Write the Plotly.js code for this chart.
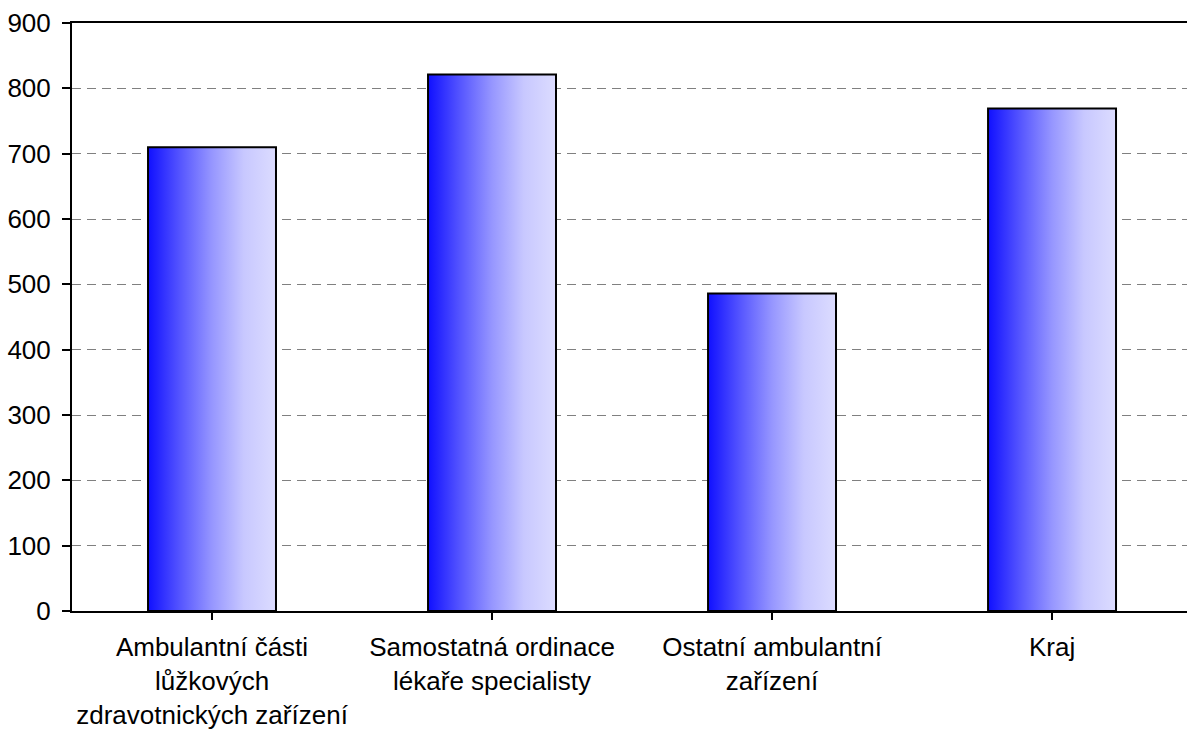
<!DOCTYPE html>
<html>
<head>
<meta charset="utf-8">
<script src="https://cdn.plot.ly/plotly-3.0.1.min.js"></script>
<style>html,body{margin:0;padding:0;background:#fff;}#chart{width:1187px;height:729px;}</style>
</head>
<body>
<div id="chart"></div>
<script>
const categories = [
  "Ambulantní části<br>lůžkových<br>zdravotnických zařízení",
  "Samostatná ordinace<br>lékaře specialisty",
  "Ostatní ambulantní<br>zařízení",
  "Kraj"
];
const values = [710, 821, 486, 769];
const yTickValues = [0, 100, 200, 300, 400, 500, 600, 700, 800, 900];

const font = {family: "Liberation Sans, Arial, sans-serif", size: 26, color: "#000"};

const trace = {
  type: "bar",
  x: [0, 1, 2, 3],
  y: values,
  width: 0.457,
  marker: {color: "#8080ff", line: {color: "#000", width: 2}},
  hoverinfo: "none"
};

const layout = {
  width: 1187, height: 729,
  margin: {l: 72, r: 0, t: 23, b: 118},
  paper_bgcolor: "#fff", plot_bgcolor: "#fff",
  font: font,
  showlegend: false,
  xaxis: {
    range: [-0.5, 3.482],
    tickmode: "array", tickvals: [0, 1, 2, 3], ticktext: categories,
    tickson: "boundaries",
    ticks: "outside", ticklen: 7, tickwidth: 2, tickcolor: "#000",
    showline: true, linecolor: "#000", linewidth: 2, mirror: true,
    showgrid: false, zeroline: false,
    tickfont: font, ticklabelstandoff: 5
  },
  yaxis: {
    range: [0, 900],
    tickmode: "array", tickvals: yTickValues,
    ticks: "outside", ticklen: 8, tickwidth: 2, tickcolor: "#000",
    showline: true, linecolor: "#000", linewidth: 2,
    showgrid: true, gridcolor: "#808080", gridwidth: 1, griddash: "9px,6px",
    zeroline: false,
    tickfont: font, ticklabelstandoff: 6
  }
};

Plotly.newPlot("chart", [trace], layout, {displayModeBar: false, staticPlot: true}).then(function(gd){
  const svg = gd.querySelector("svg.main-svg");
  const ns = "http://www.w3.org/2000/svg";
  let defs = svg.querySelector("defs");
  if (!defs) { defs = document.createElementNS(ns, "defs"); svg.insertBefore(defs, svg.firstChild); }
  const grad = document.createElementNS(ns, "linearGradient");
  grad.setAttribute("id", "barGrad");
  grad.setAttribute("x1", "0"); grad.setAttribute("y1", "0");
  grad.setAttribute("x2", "1"); grad.setAttribute("y2", "0");
  [[0, "rgb(16,16,255)"], [0.25, "rgb(85,85,255)"], [0.5, "rgb(150,150,255)"], [0.75, "rgb(200,200,255)"], [1, "rgb(220,220,255)"]].forEach(function(s){
    const st = document.createElementNS(ns, "stop");
    st.setAttribute("offset", s[0]);
    st.setAttribute("stop-color", s[1]);
    grad.appendChild(st);
  });
  defs.appendChild(grad);
  gd.querySelectorAll(".barlayer .point path").forEach(function(p){
    p.style.fill = "url(#barGrad)";
  });
});
</script>
</body>
</html>
